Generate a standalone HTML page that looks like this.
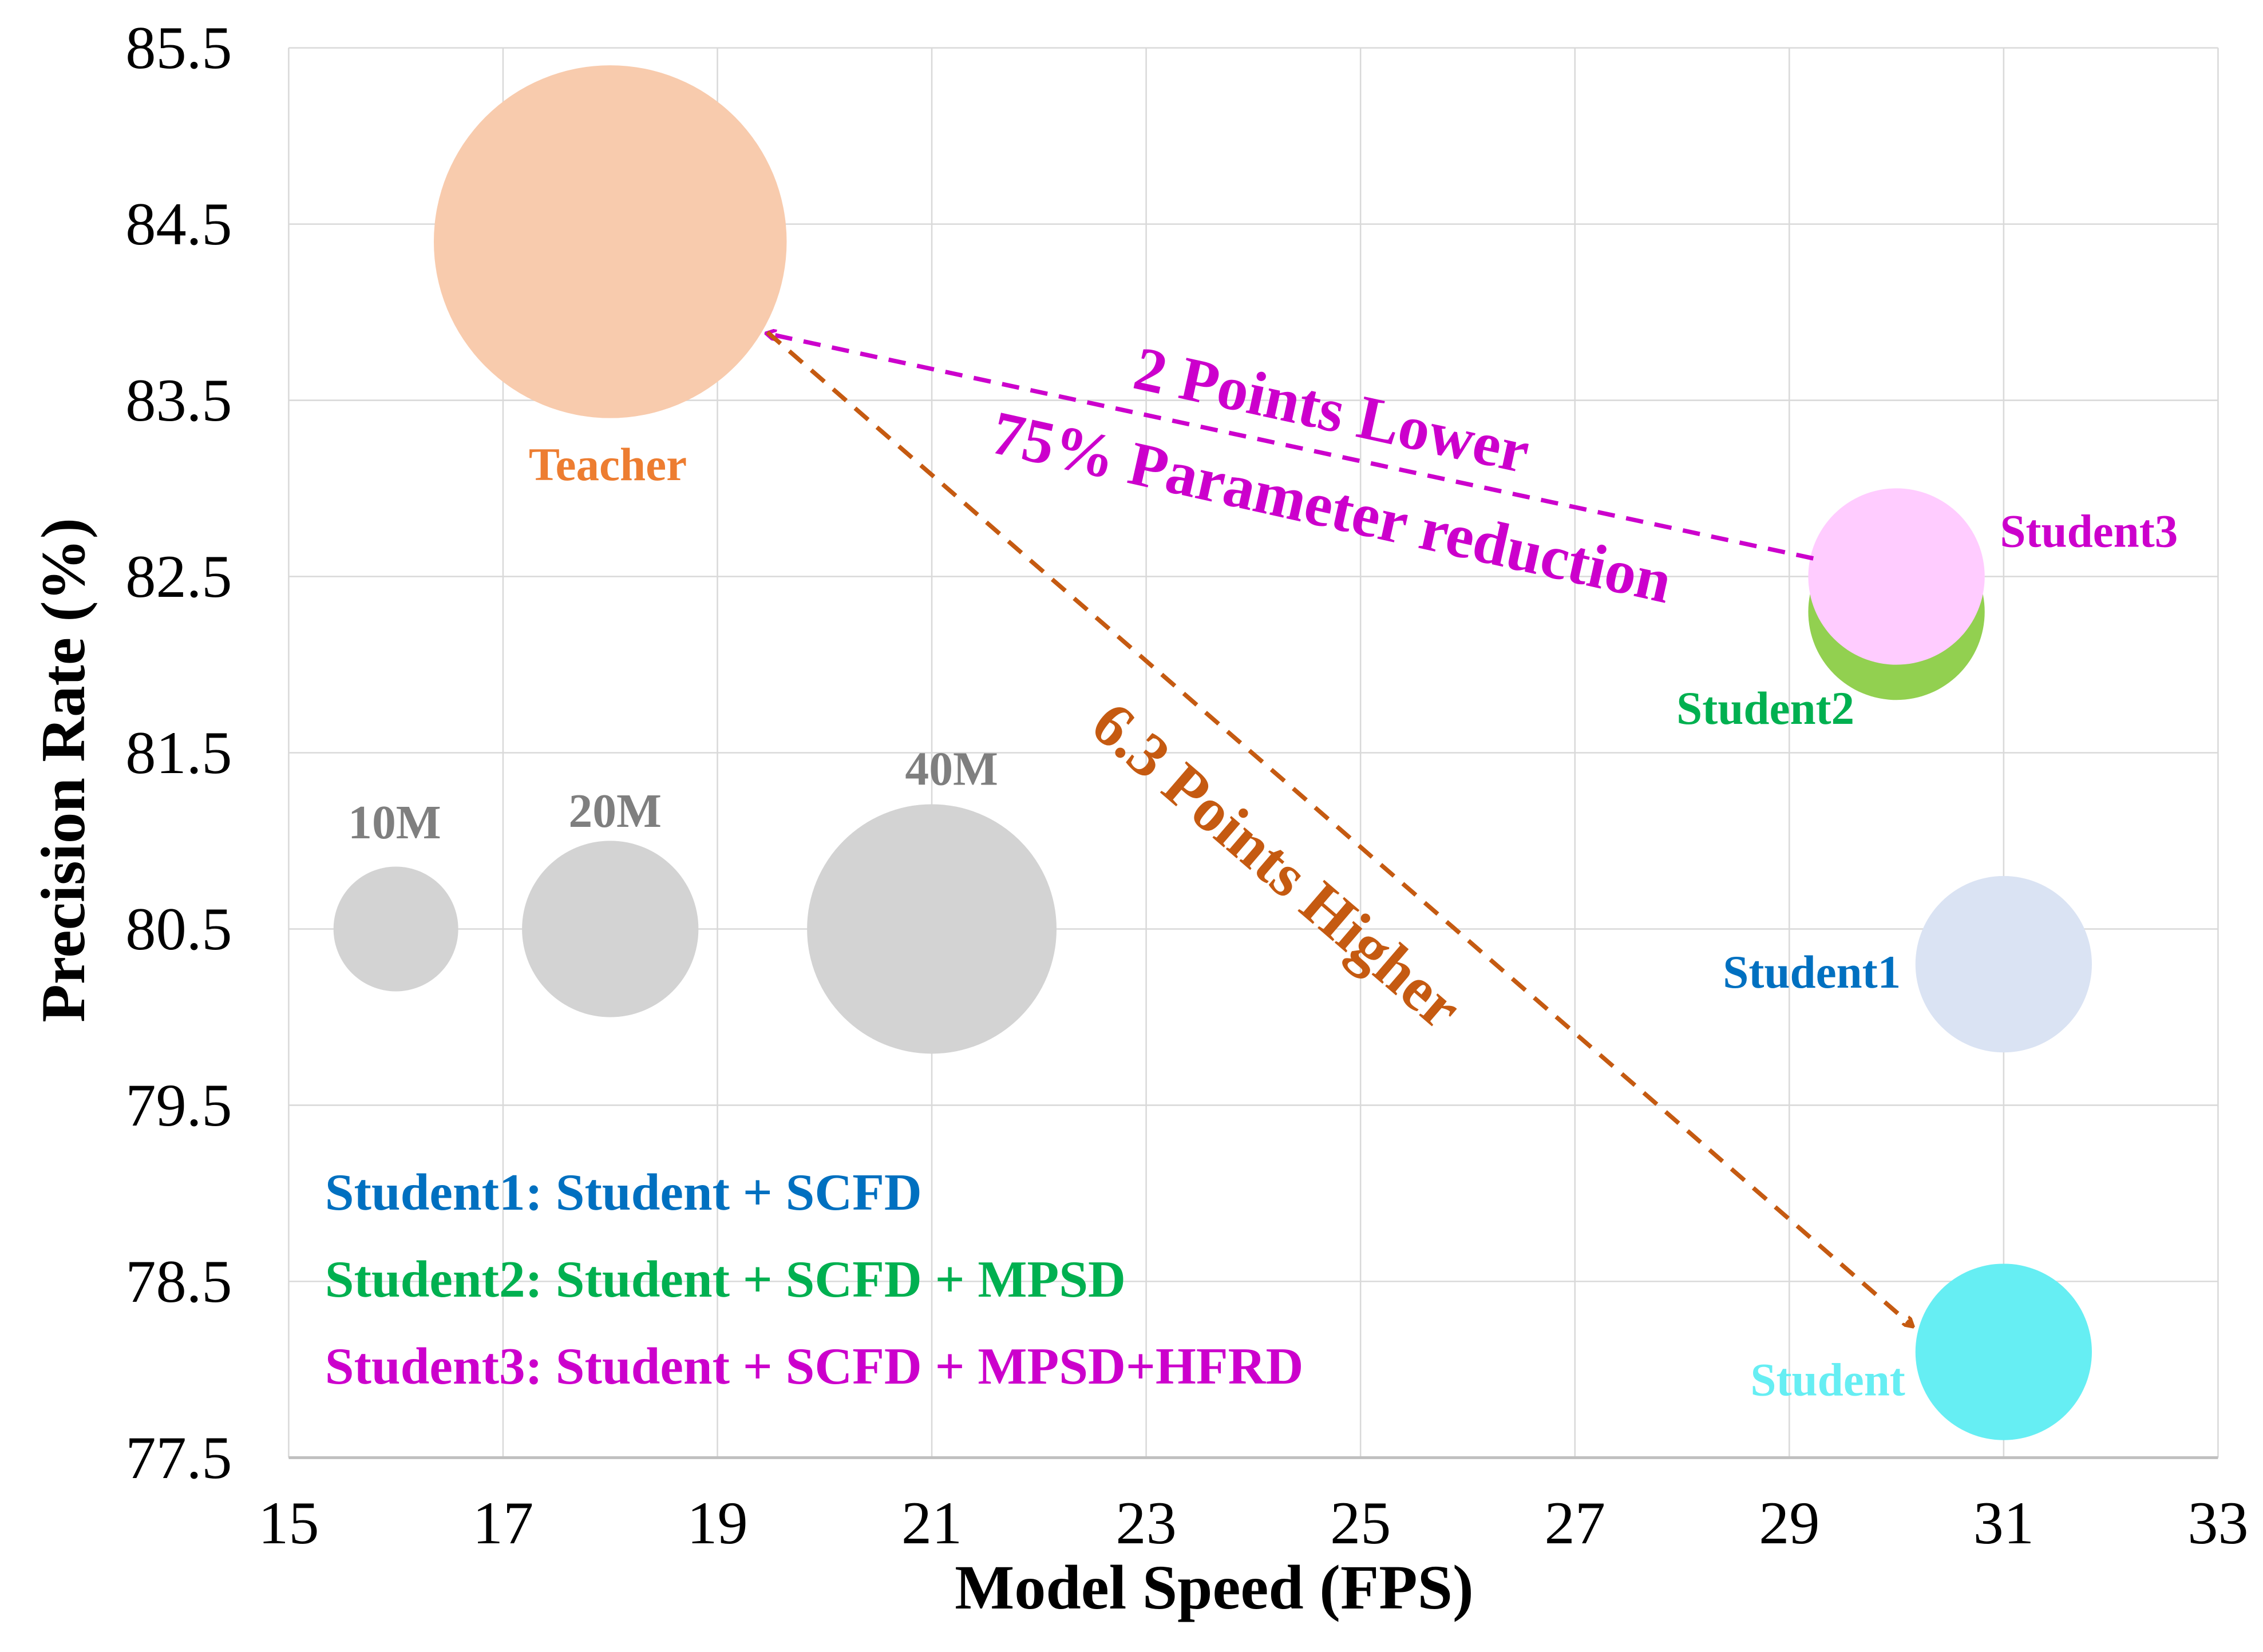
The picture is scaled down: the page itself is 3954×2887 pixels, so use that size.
<!DOCTYPE html>
<html><head><meta charset="utf-8"><style>
html,body{margin:0;padding:0;background:#fff}
svg{display:block}
text{font-family:"Liberation Serif",serif}
</style></head><body>
<svg id="chart" width="3954" height="2887" viewBox="0 0 1560 1139" preserveAspectRatio="none" xmlns="http://www.w3.org/2000/svg">
<g id="grid"></g>
<g id="bubbles"></g>
<g id="labels"></g>
<g id="axes"></g>
<defs>
<marker id="mArrM" markerWidth="8" markerHeight="8" refX="6" refY="4" orient="auto" markerUnits="userSpaceOnUse"><path d="M0,0 L7,4 L0,8" fill="none" stroke="#CC00CC" stroke-width="2.5"/></marker>
<marker id="mArrO" markerWidth="8" markerHeight="8" refX="6" refY="4" orient="auto" markerUnits="userSpaceOnUse"><path d="M0,0 L7,4 L0,8" fill="none" stroke="#C55A11" stroke-width="2.5"/></marker>
</defs>
<g id="annot"></g>
<g font-weight="bold" font-size="36">
<text x="224" y="834" fill="#0070C0">Student1: Student + SCFD</text>
<text x="224" y="894" fill="#00B050">Student2: Student + SCFD + MPSD</text>
<text x="224" y="954" fill="#CC00CC">Student3: Student + SCFD + MPSD+HFRD</text>
</g>
<text x="837" y="1109" text-anchor="middle" font-size="43.5" font-weight="bold">Model Speed (FPS)</text>
<text transform="translate(58,531) rotate(-90)" text-anchor="middle" font-size="43" font-weight="bold">Precision Rate (%)</text>
</svg>
<script>
const xTicks=[15,17,19,21,23,25,27,29,31,33];
const yTicks=[77.5,78.5,79.5,80.5,81.5,82.5,83.5,84.5,85.5];
const names=["Teacher","Student3","Student2","Student1","Student","10M","20M","40M"];
const fps=[18,30,30,31,31,16,18,21];
const precision=[84.4,82.5,82.3,80.3,78.1,80.5,80.5,80.5];
const params=[80,20,20,20,20,10,20,40];
const colors=["#F8CBAD","#FFCCFF","#92D050","#DAE3F3","#66EEF3","#D3D3D3","#D3D3D3","#D3D3D3"];
const drawOrder=[0,5,6,7,2,1,3,4];
const L=199,R=1529,T=33,B=1005;
const xs=v=>L+(v-15)/18*(R-L);
const ys=v=>B-(v-77.5)/8*(B-T);
const rs=p=>43*Math.sqrt(p/10);
const NS="http://www.w3.org/2000/svg";
function mk(tag,attrs,parent,txt){const e=document.createElementNS(NS,tag);for(const k in attrs)e.setAttribute(k,attrs[k]);if(txt!==undefined)e.textContent=txt;parent.appendChild(e);return e;}
const grid=document.getElementById('grid'),axes=document.getElementById('axes');
xTicks.forEach(t=>{
 const l=mk('line',{x1:xs(t),x2:xs(t),y1:T,y2:B,stroke:'#D9D9D9','stroke-width':1},grid);
 
 
 const tx=mk('text',{x:xs(t),y:1064,'text-anchor':'middle','font-size':42},axes,String(t));
 
 
});
yTicks.forEach(t=>{
 const l=mk('line',{x1:L,x2:R,y1:ys(t),y2:ys(t),stroke:t===77.5?'#BFBFBF':'#D9D9D9','stroke-width':t===77.5?2:1},grid);
 
 
 const tx=mk('text',{x:160,y:ys(t)+14,'text-anchor':'end','font-size':42},axes,t.toFixed(1));
 
 
});
const bub=document.getElementById('bubbles');
drawOrder.forEach(i=>{
 const c=mk('circle',{cx:xs(fps[i]),cy:ys(precision[i]),r:rs(params[i]),fill:colors[i]},bub);
 
 
});
const lab=document.getElementById('labels');
const labs=[
 {t:"Teacher",x:419,y:331,c:"#ED7D31",s:32},
 {t:"Student3",x:1440,y:377,c:"#CC00CC",s:32},
 {t:"Student2",x:1217,y:499,c:"#00B050",s:32},
 {t:"Student1",x:1249,y:681,c:"#0070C0",s:32},
 {t:"Student",x:1260,y:962,c:"#66EEF3",s:32},
 {t:"10M",x:272,y:578,c:"#7F7F7F",s:33},
 {t:"20M",x:424,y:570,c:"#7F7F7F",s:33},
 {t:"40M",x:656,y:541,c:"#7F7F7F",s:33}];
labs.forEach(o=>{
 const e=mk('text',{x:o.x,y:o.y,'text-anchor':'middle','font-size':o.s,'font-weight':'bold',fill:o.c},lab,o.t);
 
 
});
const an=document.getElementById('annot');
const a1=mk('line',{x1:1250,y1:385,x2:529,y2:230,stroke:'#CC00CC','stroke-width':3,'stroke-dasharray':'12 8','marker-end':'url(#mArrM)'},an);


const a2=mk('line',{x1:529,y1:229,x2:1318,y2:914,stroke:'#C55A11','stroke-width':3,'stroke-dasharray':'12 8','marker-end':'url(#mArrO)'},an);


const t1=mk('text',{transform:'translate(918,283) rotate(12.3)',y:14,'text-anchor':'middle','font-size':43,'font-weight':'bold',fill:'#CC00CC'},an,'2 Points Lower');


const t2=mk('text',{transform:'translate(918,350) rotate(12.6)',y:14,'text-anchor':'middle','font-size':43,'font-weight':'bold',fill:'#CC00CC'},an,'75% Parameter reduction');


const t3=mk('text',{transform:'translate(880,597) rotate(40.7)',y:14,'text-anchor':'middle','font-size':43,'font-weight':'bold',fill:'#C55A11'},an,'6.3 Points Higher');


</script>
</body></html>
